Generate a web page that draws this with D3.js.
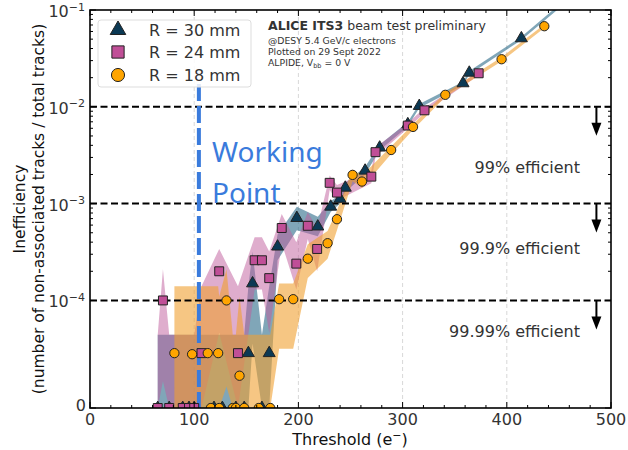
<!DOCTYPE html>
<html><head><meta charset="utf-8">
<script src="https://cdn.jsdelivr.net/npm/d3@7"></script>
<style>body{margin:0;background:#fff} svg{display:block;font-family:"DejaVu Sans",sans-serif}</style>
</head><body><svg id="c" width="628" height="450"></svg>
<script>
// ---------------- data ----------------
const seriesNames = ["R = 30 mm", "R = 24 mm", "R = 18 mm"];

const thr30 = [65, 76, 89, 95, 100, 119, 127, 140, 148, 152, 156, 165, 172, 180, 198.5, 218.6, 231, 240, 245, 264, 278, 305, 316, 358, 364, 414, 455];
const val30 = [0, 0, 0, 0, 0, 0, 0, 0, 0, 5.1e-5, 1.5e-4, 0, 5.1e-5, 3.6e-4, 7.1e-4, 5.8e-4, 9.3e-4, 1.12e-3, 1.46e-3, 2.19e-3, 3.79e-3, 6.6e-3, 1.02e-2, 1.75e-2, 2.25e-2, 5.1e-2, 1.2e-1];
const lo30  = [0, 0, 0, 0, 0, 0, 0, 0, 0, 0, 6e-5, 0, 0, 2.6e-4, 5.3e-4, 4.6e-4, 8.2e-4, 1.0e-3, 1.32e-3, 2.0e-3, 3.55e-3, 6.25e-3, 9.7e-3, 1.68e-2, 2.16e-2, 4.9e-2, 1.15e-1];
const hi30  = [6.8e-5, 6.8e-5, 6.8e-5, 6.8e-5, 6.8e-5, 6.8e-5, 6.8e-5, 6.8e-5, 6.8e-5, 1.4e-4, 3.2e-4, 6.8e-5, 1.4e-4, 4.8e-4, 9.3e-4, 7.3e-4, 1.06e-3, 1.25e-3, 1.62e-3, 2.4e-3, 4.05e-3, 6.95e-3, 1.07e-2, 1.82e-2, 2.34e-2, 5.3e-2, 1.25e-1];

const thr24 = [65, 70, 76, 89, 95, 100, 107, 124, 142, 158, 165, 172, 184, 198, 209, 218, 230, 237, 270, 274, 305, 321, 373];
const val24 = [0, 1.0e-4, 0, 0, 0, 0, 5.1e-5, 2.0e-4, 5.1e-5, 2.6e-4, 2.6e-4, 1.7e-4, 5.6e-4, 2.4e-4, 5.9e-4, 3.4e-4, 1.64e-3, 1.30e-3, 1.90e-3, 3.4e-3, 6.4e-3, 9.2e-3, 2.22e-2];
const lo24  = [0, 2.5e-5, 0, 0, 0, 0, 0, 7e-5, 0, 1.3e-4, 1.3e-4, 7e-5, 3.9e-4, 1.3e-4, 4.3e-4, 2.0e-4, 1.38e-3, 1.08e-3, 1.62e-3, 3.05e-3, 6.0e-3, 8.7e-3, 2.12e-2];
const hi24  = [6.8e-5, 2.1e-4, 6.8e-5, 6.8e-5, 6.8e-5, 6.8e-5, 1.4e-4, 3.4e-4, 1.4e-4, 4.5e-4, 4.5e-4, 3.2e-4, 7.8e-4, 4.0e-4, 8.2e-4, 5.5e-4, 1.95e-3, 1.56e-3, 2.2e-3, 3.8e-3, 6.8e-3, 9.7e-3, 2.32e-2];

const thr18 = [81, 98, 113, 116, 123, 124, 131, 137, 140, 143.5, 148, 162, 173, 181.5, 195, 209, 228, 237, 252, 261, 289, 310, 341, 395, 436];
const val18 = [5.1e-5, 5.0e-5, 5.1e-5, 0, 5.1e-5, 0, 1.0e-4, 0, 0, 3.0e-5, 0, 0, 0, 1.03e-4, 1.03e-4, 2.7e-4, 3.9e-4, 6.9e-4, 1.98e-3, 1.69e-3, 3.58e-3, 6.2e-3, 1.33e-2, 3.1e-2, 6.8e-2];
const lo18  = [0, 0, 0, 0, 0, 0, 2e-5, 0, 0, 0, 0, 0, 0, 5.5e-5, 5.5e-5, 1.7e-4, 2.7e-4, 5.3e-4, 1.7e-3, 1.45e-3, 3.25e-3, 5.8e-3, 1.26e-2, 2.95e-2, 6.5e-2];
const hi18  = [1.4e-4, 1.4e-4, 1.4e-4, 1.4e-4, 1.4e-4, 1.1e-4, 2.1e-4, 6.8e-5, 6.8e-5, 1.1e-4, 6.8e-5, 6.8e-5, 6.8e-5, 1.5e-4, 1.5e-4, 3.8e-4, 5.2e-4, 8.5e-4, 2.25e-3, 1.95e-3, 3.9e-3, 6.6e-3, 1.4e-2, 3.25e-2, 7.1e-2];

const xTicks = [0, 100, 200, 300, 400, 500];
const yTickVals = [0, 1e-4, 1e-3, 1e-2, 1e-1];
const yTickExp = [null, "−4", "−3", "−2", "−1"];
const effLevels = [1e-2, 1e-3, 1e-4];
const effLabels = ["99% efficient", "99.9% efficient", "99.99% efficient"];
const workingPoint = 104.5;
const infoLines = ["@DESY 5.4 GeV/c electrons", "Plotted on 29 Sept 2022"];

// ---------------- layout / scales ----------------
const L = 90, R = 611, T = 10, B = 408;
const LINTHRESH = 1e-4, LINSCALE = 1 / 0.9;
const tf = v => v <= LINTHRESH ? v / LINTHRESH * LINSCALE : LINSCALE + Math.log10(v / LINTHRESH);
const x = d3.scaleLinear().domain([0, 500]).range([L, R]);
const yT = d3.scaleLinear().domain([0, tf(0.1)]).range([B, T]);
const y = v => yT(tf(v));

const svg = d3.select("#c");
svg.append("defs").append("clipPath").attr("id", "clip")
  .append("rect").attr("x", L).attr("y", T).attr("width", R - L).attr("height", B - T);

// grid
svg.append("g").selectAll("line").data([100, 200, 300, 400]).join("line")
  .attr("x1", d => x(d)).attr("x2", d => x(d)).attr("y1", T).attr("y2", B)
  .attr("stroke", "#d8d8d8").attr("stroke-width", 1).attr("stroke-dasharray", "4,3");

const series = [
  {name: seriesNames[0], t: thr30, v: val30, lo: lo30, hi: hi30, band: "#2b6a88", bandOp: 0.6, fill: "#0b3954", sym: d3.symbolTriangle, size: 62, lsize: 105},
  {name: seriesNames[1], t: thr24, v: val24, lo: lo24, hi: hi24, band: "#bf5b9c", bandOp: 0.5, fill: "#c04f97", sym: d3.symbolSquare, size: 80, lsize: 150},
  {name: seriesNames[2], t: thr18, v: val18, lo: lo18, hi: hi18, band: "#f0a030", bandOp: 0.6, fill: "#ffa500", sym: d3.symbolCircle, size: 68, lsize: 135}
];

const plot = svg.append("g").attr("clip-path", "url(#clip)");
const area = d3.area().x(d => x(d.t)).y0(d => y(d.lo)).y1(d => y(d.hi));
series.forEach(s => {
  const pts = s.t.map((t, i) => ({t, v: s.v[i], lo: s.lo[i], hi: s.hi[i]})).sort((a, b) => a.t - b.t);
  s.pts = pts;
  plot.append("path").datum(pts).attr("d", area).attr("fill", s.band).attr("fill-opacity", s.bandOp);
});

// efficiency dashed lines
svg.append("g").selectAll("line").data(effLevels).join("line")
  .attr("x1", L).attr("x2", R).attr("y1", d => y(d)).attr("y2", d => y(d))
  .attr("stroke", "#000").attr("stroke-width", 2).attr("stroke-dasharray", "7,3.5");

// working point line
svg.append("line").attr("x1", x(workingPoint)).attr("x2", x(workingPoint)).attr("y1", 84).attr("y2", B)
  .attr("stroke", "#3a7bdc").attr("stroke-width", 4).attr("stroke-dasharray", "17,5");

// markers
const mk = svg.append("g").attr("clip-path", "url(#clip)");
series.forEach(s => {
  mk.append("g").selectAll("path").data(s.pts).join("path")
    .attr("d", d3.symbol().type(s.sym).size(s.size))
    .attr("transform", d => `translate(${x(d.t)},${y(d.v)})`)
    .attr("fill", s.fill).attr("stroke", "#222").attr("stroke-width", 1);
});

// efficiency labels and arrows
const arrowX = x(486);
const effBase = [173, 254, 337];
effLevels.forEach((lv, i) => {
  const y0 = y(lv);
  svg.append("line").attr("x1", arrowX).attr("x2", arrowX).attr("y1", y0).attr("y2", y0 + 18)
    .attr("stroke", "#000").attr("stroke-width", 2);
  svg.append("path").attr("d", `M${arrowX - 5},${y0 + 16}L${arrowX + 5},${y0 + 16}L${arrowX},${y0 + 29}Z`).attr("fill", "#000");
  svg.append("text").attr("x", 580).attr("y", effBase[i]).attr("text-anchor", "end")
    .attr("font-size", 16).attr("fill", "#333").text(effLabels[i]);
});

// Working Point text
svg.append("text").attr("x", 212).attr("y", 162).attr("font-family", "Noto Sans").attr("font-size", 28)
  .attr("fill", "#3a7bdc").text("Working");
svg.append("text").attr("x", 212).attr("y", 203).attr("font-family", "Noto Sans").attr("font-size", 28)
  .attr("fill", "#3a7bdc").text("Point");

// frame and ticks
svg.append("rect").attr("x", L).attr("y", T).attr("width", R - L).attr("height", B - T)
  .attr("fill", "none").attr("stroke", "#000").attr("stroke-width", 1.6);

const tk = svg.append("g").attr("stroke", "#000").attr("stroke-width", 1);
const xMinor = d3.range(0, 501, 20).filter(d => d % 100 !== 0);
xTicks.forEach(d => {
  tk.append("line").attr("x1", x(d)).attr("x2", x(d)).attr("y1", B).attr("y2", B - 6);
  tk.append("line").attr("x1", x(d)).attr("x2", x(d)).attr("y1", T).attr("y2", T + 6);
});
xMinor.forEach(d => {
  tk.append("line").attr("x1", x(d)).attr("x2", x(d)).attr("y1", B).attr("y2", B - 3);
  tk.append("line").attr("x1", x(d)).attr("x2", x(d)).attr("y1", T).attr("y2", T + 3);
});
const yMinor = [];
[1e-4, 1e-3, 1e-2].forEach(dec => { for (let k = 2; k <= 9; k++) yMinor.push(k * dec); });
yTickVals.forEach(d => {
  tk.append("line").attr("x1", L).attr("x2", L + 6).attr("y1", y(d)).attr("y2", y(d));
  tk.append("line").attr("x1", R).attr("x2", R - 6).attr("y1", y(d)).attr("y2", y(d));
});
yMinor.forEach(d => {
  tk.append("line").attr("x1", L).attr("x2", L + 3).attr("y1", y(d)).attr("y2", y(d));
  tk.append("line").attr("x1", R).attr("x2", R - 3).attr("y1", y(d)).attr("y2", y(d));
});

// tick labels
svg.append("g").selectAll("text").data(xTicks).join("text")
  .attr("x", d => x(d)).attr("y", 425).attr("text-anchor", "middle")
  .attr("font-size", 16).attr("fill", "#333").text(d => d);
yTickVals.forEach((d, i) => {
  const t = svg.append("text").attr("x", 85).attr("y", y(d) + 7).attr("text-anchor", "end")
    .attr("font-size", 16).attr("fill", "#333");
  if (yTickExp[i] === null) { t.attr("x", 86).attr("y", y(d) + 3).text("0"); }
  else {
    t.append("tspan").text("10");
    t.append("tspan").attr("dy", -6.5).attr("font-size", 11).text(yTickExp[i]);
  }
});

// axis titles
const xl = svg.append("text").attr("x", 350).attr("y", 445).attr("text-anchor", "middle").attr("font-size", 16).attr("fill", "#111");
xl.append("tspan").text("Threshold (e");
xl.append("tspan").attr("dy", -6).attr("font-size", 11).text("−");
xl.append("tspan").attr("dy", 6).text(")");
svg.append("text").attr("transform", "translate(25,209) rotate(-90)").attr("text-anchor", "middle")
  .attr("font-size", 15.5).attr("fill", "#111").text("Inefficiency");
svg.append("text").attr("transform", "translate(44,209) rotate(-90)").attr("text-anchor", "middle")
  .attr("font-size", 15.5).attr("fill", "#111").text("(number of non-associated tracks / total tracks)");

// legend
const lg = svg.append("g");
lg.append("rect").attr("x", 98).attr("y", 20).attr("width", 153).attr("height", 67).attr("rx", 3)
  .attr("fill", "#fff").attr("fill-opacity", 0.85).attr("stroke", "#ddd");
series.forEach((s, i) => {
  const yy = [30, 52, 75][i];
  lg.append("path").attr("d", d3.symbol().type(s.sym).size(s.lsize))
    .attr("transform", `translate(118,${yy})`).attr("fill", s.fill).attr("stroke", "#222");
  lg.append("text").attr("x", 149).attr("y", yy + 6).attr("font-size", 16).attr("fill", "#333").text(s.name);
});

// info text
const ti = svg.append("text").attr("x", 268).attr("y", 30).attr("font-size", 12.5).attr("fill", "#333");
ti.append("tspan").attr("font-weight", "bold").text("ALICE ITS3");
ti.append("tspan").text(" beam test preliminary");
infoLines.forEach((s, i) => {
  svg.append("text").attr("x", 268).attr("y", 43.5 + 11 * i).attr("font-size", 9.3).attr("fill", "#333").text(s);
});
const al = svg.append("text").attr("x", 268).attr("y", 65.5).attr("font-size", 9.3).attr("fill", "#333");
al.append("tspan").text("ALPIDE, V");
al.append("tspan").attr("dy", 2).attr("font-size", 6.5).text("bb");
al.append("tspan").attr("dy", -2).text(" = 0 V");
</script></body></html>
